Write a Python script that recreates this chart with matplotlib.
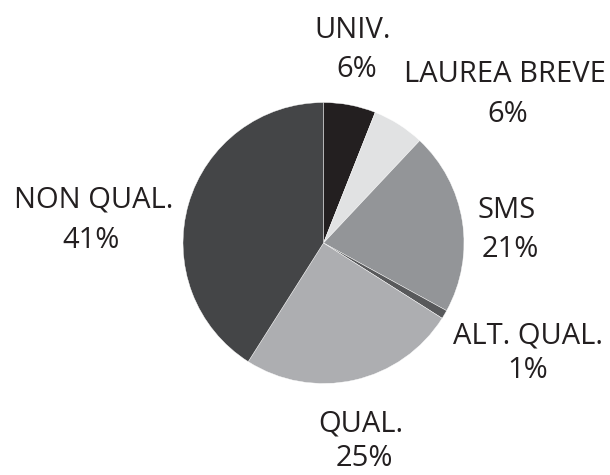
import matplotlib.pyplot as plt

# dati del grafico (da ore 12 in senso orario)
categorie = ["UNIV.", "LAUREA BREVE", "SMS", "ALT. QUAL.", "QUAL.", "NON QUAL."]
valori = [6, 6, 21, 1, 25, 41]
colori = ["#231f20", "#e1e2e3", "#939598", "#58595b", "#adaeb1", "#444547"]

# posizioni delle etichette (pixel: x centro, baseline nome, baseline percentuale)
pos_etichette = [(353, 357, 38, 77),
                 (505, 508, 82, 122),
                 (507, 510, 218, 257),
                 (528, 528, 343, 378),
                 (361, 364, 432, 466),
                 (94, 91, 208, 248)]

W, H = 610, 475
plt.rcParams['font.family'] = ['Open Sans', 'DejaVu Sans']

fig = plt.figure(figsize=(W / 100, H / 100), dpi=100)
ax = fig.add_axes([0, 0, 1, 1])

ax.pie(valori, colors=colori, startangle=90, counterclock=False,
       center=(323.5, H - 243), radius=140.5, frame=True,
       wedgeprops=dict(edgecolor='white', linewidth=0.3))
ax.set_xlim(0, W)
ax.set_ylim(0, H)
ax.axis('off')

for nome, v, (x1, x2, y1, y2) in zip(categorie, valori, pos_etichette):
    ax.text(x1, H - y1, nome, ha='center', va='baseline', fontsize=21, color='#231f20')
    ax.text(x2, H - y2, str(v) + '%', ha='center', va='baseline', fontsize=21, color='#231f20')

fig.savefig('out.png', dpi=100)
